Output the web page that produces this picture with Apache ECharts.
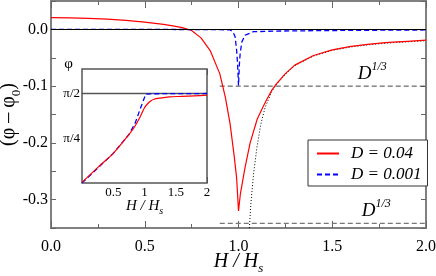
<!DOCTYPE html>
<html><head><meta charset="utf-8">
<script src="https://cdn.jsdelivr.net/npm/echarts@6/dist/echarts.min.js"></script>
<style>html,body{margin:0;padding:0;background:#fff}#c{width:436px;height:276px}</style>
</head><body><div id="c"></div>
<script>
// ---- main panel data ----
const redX = [0, 0.1, 0.2, 0.3, 0.4, 0.5, 0.6, 0.65, 0.7, 0.75, 0.8, 0.85, 0.9, 0.93, 0.955, 0.978, 0.99, 1.0, 1.01, 1.035, 1.062, 1.1, 1.133, 1.15, 1.178, 1.2, 1.25, 1.3, 1.4, 1.5, 1.6, 1.7, 1.8, 1.9, 2.0];
const redY = [0.0206, 0.0203, 0.0195, 0.0182, 0.016, 0.0128, 0.0088, 0.0062, 0.003, -0.002, -0.015, -0.038, -0.078, -0.12, -0.166, -0.226, -0.262, -0.32, -0.29, -0.243, -0.2, -0.158, -0.135, -0.124, -0.107, -0.097, -0.078, -0.063, -0.046, -0.036, -0.03, -0.026, -0.023, -0.021, -0.019];
const blueX = [0, 0.5, 0.9, 0.955, 0.97, 0.982, 0.99, 0.995, 1.0, 1.005, 1.009, 1.018, 1.036, 1.08, 1.2, 1.5, 2.0];
const blueY = [0, 0, -0.0005, -0.001, -0.004, -0.013, -0.037, -0.06, -0.099, -0.06, -0.042, -0.022, -0.01, -0.004, -0.003, -0.002, -0.001];
const dotX = [1.058, 1.067, 1.08, 1.098, 1.119, 1.142, 1.178, 1.2, 1.25, 1.3, 1.4, 1.5, 1.6, 1.7, 1.8, 1.9, 2.0];
const dotY = [-0.35, -0.303, -0.256, -0.2085, -0.167, -0.1375, -0.109, -0.098, -0.079, -0.064, -0.047, -0.037, -0.031, -0.027, -0.024, -0.022, -0.020];
const levelY = [-0.1, -0.342];           // D^(1/3) levels
const levelX = [0.9, 2.0];
const labelCoords = [[1.713, -0.075], [1.735, -0.317]];
const seriesNames = ['D = 0.04', 'D = 0.001'];
const mainXLabelValues = [0, 0.5, 1, 1.5, 2];
const mainXLabels = ['0.0', '0.5', '1.0', '1.5', '2.0'];
const mainYLabelValues = [0, -0.1, -0.2, -0.3];
const mainYLabels = ['0.0', '-0.1', '-0.2', '-0.3'];
const mainYTickValues = [0.05, 0, -0.05, -0.1, -0.15, -0.2, -0.25, -0.3, -0.35];
// ---- inset data ----
const inRedX = [0, 0.25, 0.5, 0.75, 0.85, 0.925, 1.0, 1.05, 1.1, 1.15, 1.25, 1.4, 1.6, 1.8, 2.0];
const inRedY = [0.01, 0.27, 0.52, 0.85, 1.0, 1.15, 1.32, 1.39, 1.44, 1.47, 1.49, 1.51, 1.52, 1.53, 1.54];
const inBlueX = [0, 0.25, 0.5, 0.75, 0.85, 0.925, 1.0, 1.02, 1.1, 1.5, 2.0];
const inBlueY = [0, 0.26, 0.52, 0.85, 1.05, 1.28, 1.5, 1.56, 1.565, 1.568, 1.57];
const inXLabelValues = [0.5, 1, 1.5, 2];
const inXLabels = ['0.5', '1', '1.5', '2'];
const inYLabelValues = [Math.PI / 4, Math.PI / 2];
const inYLabels = ['π/4', 'π/2'];

const zip = (xs, ys) => xs.map((x, i) => [x, ys[i]]);
const F = 'Liberation Serif';
const lab = (vals, txt) => v => { const i = vals.findIndex(a => Math.abs(a - v) < 1e-6); return i < 0 ? '' : txt[i]; };
const noLine = { show: false, onZero: false };

const chart = echarts.init(document.getElementById('c'));
const sup = {
  d: { fontFamily: F, fontStyle: 'italic', fontSize: 19, color: '#000', padding: [4, 0, 0, 0] },
  s: { fontFamily: F, fontStyle: 'italic', fontSize: 12, color: '#000', verticalAlign: 'top', lineHeight: 12 }
};
chart.setOption({
  animation: false,
  backgroundColor: '#fff',
  textStyle: { fontFamily: F },
  grid: [
    { left: 51, top: 1, right: 10, bottom: 48, show: true, borderColor: '#808080', borderWidth: 2, outerBoundsMode: 'none', containLabel: false },
    { left: 82, top: 69, width: 125, height: 114, show: true, borderColor: '#555', borderWidth: 1.5, backgroundColor: '#fff', z: 5, outerBoundsMode: 'none', containLabel: false }
  ],
  legend: {
    left: 308, top: 140, orient: 'vertical', data: seriesNames,
    backgroundColor: '#fff', borderColor: '#333', borderWidth: 1,
    padding: [5, 6, 3, 8], itemGap: 4, itemWidth: 22, itemHeight: 1.5,
    itemStyle: { opacity: 0 },
    textStyle: { fontFamily: F, fontStyle: 'italic', fontSize: 17, color: '#000', padding: [0, 0, 0, 7] }
  },
  xAxis: [
    { gridIndex: 0, type: 'value', min: 0, max: 2, interval: 0.5, position: 'bottom',
      axisLine: noLine, splitLine: { show: false },
      axisTick: { inside: true, length: 7, lineStyle: { color: '#666' } },
      minorTick: { show: true, splitNumber: 2, length: 4, lineStyle: { color: '#666' } },
      axisLabel: { customValues: mainXLabelValues, formatter: lab(mainXLabelValues, mainXLabels), fontFamily: F, fontSize: 16, color: '#000', margin: 11 },
      name: '{a|H / H}{b|s}', nameLocation: 'middle', nameGap: 24, nameMoveOverlap: false,
      nameTextStyle: { rich: {
        a: { fontFamily: F, fontStyle: 'italic', fontSize: 20, color: '#000', padding: [0, 0, 3, 0] },
        b: { fontFamily: F, fontStyle: 'italic', fontSize: 13, color: '#000', verticalAlign: 'bottom', lineHeight: 13 } } } },
    { gridIndex: 0, type: 'value', min: 0, max: 2, interval: 0.5, position: 'top',
      axisLine: noLine, splitLine: { show: false }, axisLabel: { show: false },
      axisTick: { inside: true, length: 7, lineStyle: { color: '#666' } },
      minorTick: { show: true, splitNumber: 2, length: 4, lineStyle: { color: '#666' } } },
    { gridIndex: 1, type: 'value', min: 0, max: 2, interval: 0.25, position: 'bottom',
      axisLine: noLine, splitLine: { show: false },
      axisTick: { inside: true, length: 6, lineStyle: { color: '#555' } },
      axisLabel: { customValues: inXLabelValues, formatter: lab(inXLabelValues, inXLabels), fontFamily: F, fontSize: 13, color: '#000', margin: 3 },
      name: '{a|H / H}{b|s}', nameLocation: 'middle', nameGap: 16, nameMoveOverlap: false,
      nameTextStyle: { rich: {
        a: { fontFamily: F, fontStyle: 'italic', fontSize: 15, color: '#000', padding: [0, 0, 2, 0] },
        b: { fontFamily: F, fontStyle: 'italic', fontSize: 10, color: '#000', verticalAlign: 'bottom', lineHeight: 10 } } } },
    { gridIndex: 1, type: 'value', min: 0, max: 2, interval: 0.25, position: 'top',
      axisLine: noLine, splitLine: { show: false }, axisLabel: { show: false },
      axisTick: { inside: true, length: 6, lineStyle: { color: '#555' } } }
  ],
  yAxis: [
    { gridIndex: 0, type: 'value', min: -0.35, max: 0.05, position: 'left',
      axisLine: noLine, splitLine: { show: false },
      axisTick: { customValues: mainYTickValues, inside: true, length: 5, lineStyle: { color: '#666' } },
      axisLabel: { customValues: mainYLabelValues, formatter: lab(mainYLabelValues, mainYLabels), fontFamily: F, fontSize: 16, color: '#000', margin: 3 },
      name: '{a|(φ – φ}{b|0}{a|)}', nameLocation: 'middle', nameGap: 28, nameRotate: 90, nameMoveOverlap: false,
      nameTextStyle: { rich: {
        a: { fontFamily: F, fontSize: 20, color: '#000', padding: [0, 0, 4, 0] },
        b: { fontFamily: F, fontSize: 13, color: '#000', verticalAlign: 'bottom', lineHeight: 13 } } } },
    { gridIndex: 0, type: 'value', min: -0.35, max: 0.05, position: 'right',
      axisLine: noLine, splitLine: { show: false }, axisLabel: { show: false },
      axisTick: { customValues: mainYTickValues, inside: true, length: 5, lineStyle: { color: '#666' } } },
    { gridIndex: 1, type: 'value', min: 0, max: 2, position: 'left',
      axisLine: noLine, splitLine: { show: false },
      axisTick: { customValues: inYLabelValues, inside: true, length: 6, lineStyle: { color: '#555' } },
      axisLabel: { customValues: inYLabelValues, formatter: lab(inYLabelValues, inYLabels), fontFamily: F, fontSize: 13, color: '#000', margin: 2 },
      name: 'φ', nameLocation: 'end', nameGap: -3, nameMoveOverlap: false,
      nameTextStyle: { fontFamily: F, fontSize: 15, color: '#000', align: 'right', padding: [0, 9, 0, 0] } },
    { gridIndex: 1, type: 'value', min: 0, max: 2, position: 'right',
      axisLine: noLine, splitLine: { show: false }, axisLabel: { show: false },
      axisTick: { customValues: inYLabelValues, inside: true, length: 6, lineStyle: { color: '#555' } } }
  ],
  series: [
    { type: 'line', xAxisIndex: 0, yAxisIndex: 0, symbol: 'none', silent: true, z: 1,
      data: levelX.map(x => [x, levelY[0]]), lineStyle: { color: '#444', width: 1, type: [5, 3] },
      markPoint: { symbol: 'circle', symbolSize: 0, silent: true,
        label: { show: true, position: 'inside', formatter: '{d|D}{s|1/3}', rich: sup },
        data: [{ coord: labelCoords[0] }] } },
    { type: 'line', xAxisIndex: 0, yAxisIndex: 0, symbol: 'none', silent: true, z: 1,
      data: levelX.map(x => [x, levelY[1]]), lineStyle: { color: '#777', width: 1.2, type: [5, 3] },
      markPoint: { symbol: 'circle', symbolSize: 0, silent: true,
        label: { show: true, position: 'inside', formatter: '{d|D}{s|1/3}', rich: sup },
        data: [{ coord: labelCoords[1] }] } },
    { type: 'line', xAxisIndex: 0, yAxisIndex: 0, symbol: 'none', silent: true, z: 1,
      data: zip(dotX, dotY), lineStyle: { color: '#000', width: 1, type: [1, 2] } },
    { type: 'line', xAxisIndex: 0, yAxisIndex: 0, symbol: 'none', silent: true, z: 2,
      data: [], markLine: { symbol: 'none', silent: true, label: { show: false },
        lineStyle: { color: '#000', width: 1, type: 'solid' }, data: [{ yAxis: 0 }] } },
    { name: seriesNames[0], type: 'line', xAxisIndex: 0, yAxisIndex: 0, symbol: 'none', z: 3,
      data: zip(redX, redY), color: '#ff0000', lineStyle: { color: '#ff0000', width: 1.2 } },
    { name: seriesNames[1], type: 'line', xAxisIndex: 0, yAxisIndex: 0, symbol: 'none', z: 4,
      data: zip(blueX, blueY), color: '#0000ff', lineStyle: { color: '#0000ff', width: 1.3, type: [5, 3] } },
    // inset
    { type: 'line', xAxisIndex: 2, yAxisIndex: 2, symbol: 'none', silent: true, z: 6,
      data: [], markLine: { symbol: 'none', silent: true, label: { show: false },
        lineStyle: { color: '#555', width: 1.3, type: 'solid' }, data: [{ yAxis: Math.PI / 2 }] } },
    { type: 'line', xAxisIndex: 2, yAxisIndex: 2, symbol: 'none', silent: true, z: 7,
      data: zip(inBlueX, inBlueY), lineStyle: { color: '#0000ff', width: 1.3, type: [5, 3] } },
    { type: 'line', xAxisIndex: 2, yAxisIndex: 2, symbol: 'none', silent: true, z: 8,
      data: zip(inRedX, inRedY), smooth: 0.3, lineStyle: { color: '#ff0000', width: 1.2 } }
  ]
});
</script></body></html>
